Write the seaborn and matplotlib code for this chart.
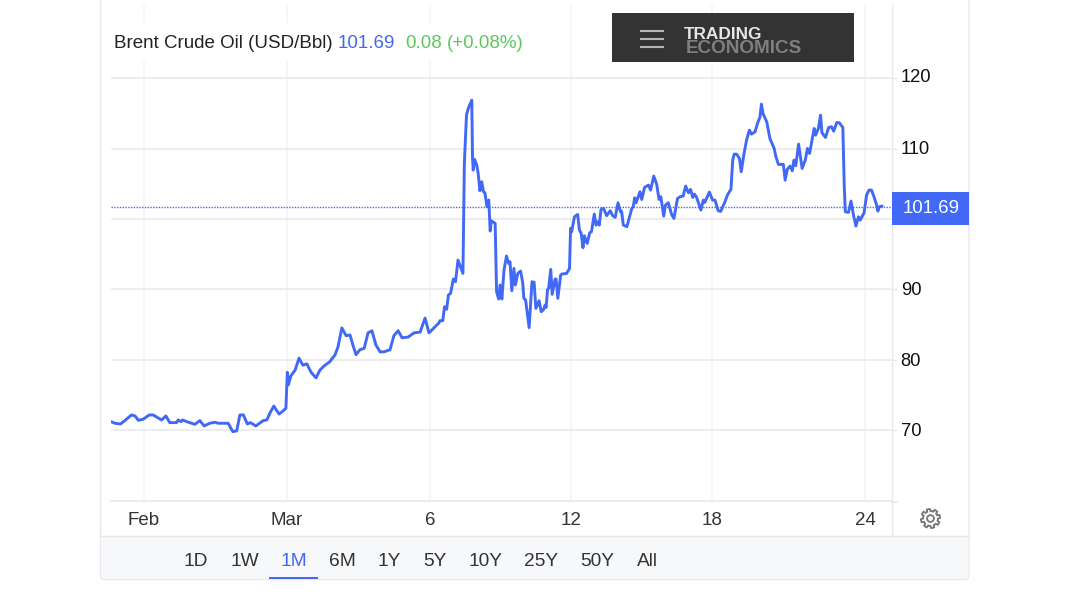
import matplotlib
matplotlib.use("Agg")
import matplotlib.pyplot as plt
from matplotlib.patches import Rectangle, FancyBboxPatch, Polygon, Circle
from matplotlib.transforms import ScaledTranslation
import numpy as np
import pandas as pd
import seaborn as sns

# trading days counted from 2 March, price in USD/Bbl
days = [-4.97, -4.86, -4.70, -4.58, -4.39, -4.29, -4.20, -4.06, -3.89, -3.78, -3.54, -3.42, -3.31, -3.12,
        -3.07, -2.99, -2.95, -2.83, -2.60, -2.46, -2.34, -2.18, -2.03, -1.94, -1.66, -1.53, -1.42, -1.33,
        -1.23, -1.12, -1.03, -0.88, -0.67, -0.57, -0.46, -0.37, -0.29, -0.22, -0.10, -0.03,
        0.01, 0.04, 0.11, 0.23, 0.34, 0.45, 0.56, 0.68, 0.82, 0.93, 1.05, 1.21, 1.36, 1.44, 1.55, 1.67,
        1.78, 1.86, 1.95, 2.06, 2.18, 2.29, 2.40, 2.51, 2.63, 2.74, 2.91, 3.02, 3.14, 3.25, 3.42, 3.59,
        3.76, 3.90, 4.01, 4.15, 4.29, 4.32, 4.40, 4.45, 4.51, 4.56, 4.62, 4.70, 4.76, 4.83, 4.97, 5.01,
        5.07, 5.12, 5.22, 5.24, 5.26, 5.30, 5.36, 5.40, 5.45, 5.50, 5.55, 5.59, 5.65, 5.70, 5.74, 5.77,
        5.88, 5.92, 5.98, 6.02, 6.07, 6.13, 6.20, 6.26, 6.30, 6.35, 6.41, 6.45, 6.52, 6.60, 6.66, 6.69,
        6.74, 6.84, 6.92, 6.98, 7.03, 7.12, 7.18, 7.24, 7.29, 7.32, 7.36, 7.39, 7.45, 7.49, 7.57, 7.60,
        7.65, 7.73, 7.77, 7.90, 7.98, 8.01, 8.04, 8.12, 8.21, 8.26, 8.31, 8.36, 8.40, 8.44, 8.48, 8.55,
        8.60, 8.68, 8.73, 8.77, 8.82, 8.87, 8.94, 9.03, 9.13, 9.20, 9.27, 9.35, 9.42, 9.45, 9.50, 9.60,
        9.74, 9.78, 9.82, 9.86, 9.97, 10.02, 10.10, 10.21, 10.27, 10.36, 10.44, 10.51, 10.56, 10.64, 10.69,
        10.77, 10.87, 10.93, 11.03, 11.10, 11.19, 11.26, 11.34, 11.40, 11.46, 11.51, 11.57, 11.69, 11.76,
        11.80, 11.93, 12.02, 12.09, 12.18, 12.25, 12.37, 12.44, 12.54, 12.59, 12.63, 12.70, 12.78, 12.83,
        12.91, 12.98, 13.06, 13.12, 13.22, 13.29, 13.36, 13.40, 13.45, 13.55, 13.64, 13.76, 13.81, 13.88,
        14.02, 14.07, 14.13, 14.21, 14.27, 14.32, 14.37, 14.45, 14.55, 14.64, 14.70, 14.76, 14.82, 14.89,
        14.93, 15.01, 15.07, 15.11, 15.21, 15.30, 15.38, 15.44, 15.53, 15.60, 15.70, 15.74, 15.77, 15.86,
        15.93, 16.00, 16.07, 16.14, 16.19, 16.30, 16.37, 16.44, 16.51, 16.58, 16.64, 16.69, 16.73, 16.81]
prices = [71.18, 70.95, 70.85, 71.33, 72.13, 71.99, 71.37, 71.52, 72.13, 72.13, 71.42, 71.99, 71.04, 71.04,
          71.42, 71.18, 71.42, 71.18, 70.80, 71.33, 70.57, 70.95, 71.09, 70.95, 70.95, 69.76, 69.86, 72.13,
          72.13, 70.85, 71.04, 70.57, 71.33, 71.42, 72.60, 73.40, 72.75, 72.27, 72.75, 73.08,
          78.2, 76.4, 77.7, 78.5, 80.2, 79.2, 79.4, 78.2, 77.4, 78.5, 79.1, 79.7, 80.7, 81.8, 84.5, 83.4,
          83.5, 82.1, 80.7, 81.4, 81.6, 83.8, 84.1, 82.1, 81.1, 81.1, 81.4, 83.4, 84.1, 83.1, 83.2, 83.8,
          83.9, 85.9, 83.8, 84.5, 85.2, 85.53, 85.53, 87.52, 87.14, 89.18, 89.41, 91.45, 91.07, 94.15, 92.25, 107.9,
          114.74, 115.69, 116.88, 108.83, 106.93, 108.45, 107.64, 106.46, 104.0, 105.28, 103.85, 103.71, 101.72, 102.67, 98.27, 99.73,
          99.36, 89.65, 88.61, 90.6, 88.61, 92.73, 94.72, 93.67, 93.91, 89.79, 92.96, 90.6, 92.25, 92.59, 90.83, 88.7,
          88.47, 84.54, 91.07, 90.98, 87.28, 88.37, 86.81, 87.05, 87.76, 87.42, 89.98, 90.12, 92.82, 89.27, 91.45, 91.45,
          88.7, 92.02, 92.16, 92.25, 92.96, 98.65, 98.17, 100.3, 100.63, 98.41, 97.94, 95.9, 97.6, 96.99, 96.52, 98.03,
          98.17, 100.68, 99.12, 99.59, 99.12, 101.34, 101.49, 100.45, 101.16, 100.45, 100.21, 102.29, 101.01, 101.11, 99.12, 98.88,
          101.49, 101.72, 103.0, 102.29, 103.85, 102.76, 104.47, 104.8, 104.09, 106.08, 104.94, 102.76, 103.14, 100.4, 101.96,
          102.29, 100.54, 100.07, 102.9, 103.14, 103.24, 104.66, 103.71, 104.19, 103.05, 103.52, 103.05, 101.25, 102.67,
          102.34, 103.8, 102.67, 102.67, 101.16, 101.06, 102.43, 103.38, 104.23, 108.35, 109.2, 109.2, 108.59, 106.7,
          109.3, 111.19, 112.61, 112.05, 112.38, 113.56, 114.51, 116.31, 114.89, 113.8, 111.43, 110.01, 108.83, 107.74,
          107.74, 105.51, 107.03, 107.5, 106.84, 108.35, 107.55, 110.63, 107.17, 108.35, 110.01, 109.3, 110.96, 112.85,
          111.9, 112.85, 114.74, 112.23, 111.57, 112.99, 113.09, 112.47, 113.7, 113.66, 112.99, 104.56, 101.01, 100.92,
          102.53, 100.54, 98.98, 100.3, 99.83, 100.87, 103.38, 104.09, 104.09, 103.14, 102.2, 101.11, 101.72, 101.82]

y_ticks = [70, 80, 90, 100, 110, 120]
y_labels = ["70", "80", "90", "", "110", "120"]
x_ticks = [-4.04, 0, 4.04, 8.02, 12.0, 16.33]
x_labels = ["Feb", "Mar", "6", "12", "18", "24"]
last_price = 101.69
ranges = ["1D", "1W", "1M", "6M", "1Y", "5Y", "10Y", "25Y", "50Y", "All"]
range_x = [195.5, 244.5, 294, 342, 389, 435, 486, 541, 597, 647]

BLUE = "#4169f5"
W, H = 1077, 594

sns.set_style("white")
plt.rcParams["font.family"] = ["Liberation Sans", "DejaVu Sans"]

fig = plt.figure(figsize=(W / 100, H / 100), dpi=100)

# page furniture, in pixel coordinates
bg = fig.add_axes([0, 0, 1, 1], zorder=0)
bg.set_xlim(0, W)
bg.set_ylim(H, 0)
bg.axis("off")
bg.add_patch(FancyBboxPatch((100.5, -20), 868.5, 599.5, boxstyle="round,pad=0,rounding_size=4",
                            fc="white", ec="#e6e8eb", lw=1))
bg.add_patch(FancyBboxPatch((101, 535.5), 867.5, 43.5, boxstyle="round,pad=0,rounding_size=3",
                            fc="#f7f8fa", ec="none"))
bg.plot([101, 969], [535.5, 535.5], color="#e6e8eb", lw=1)
bg.plot([891.5, 891.5], [5, 535], color="#e6e8eb", lw=1)

# the chart itself
ax = fig.add_axes([111 / W, 1 - 501 / H, 780 / W, 496 / H], zorder=1)
ax.patch.set_alpha(0)
df = pd.DataFrame({"day": days, "price": prices})
ax.axhline(last_price, color=BLUE, lw=1, ls=(0, (1, 1)), zorder=1.5)
sns.lineplot(data=df, x="day", y="price", color=BLUE, lw=2.1, ax=ax, zorder=3)
ax.set_xlim(-4.97, 17.06)
ax.set_ylim(59.9, 130.4)
ax.yaxis.tick_right()
ax.set_yticks(y_ticks)
ax.set_yticklabels(y_labels)
ax.set_xticks(x_ticks)
ax.set_xticklabels(x_labels)
ax.set_xlabel("")
ax.set_ylabel("")
ax.grid(False)
ax.grid(True, axis="y", color="#e9eaeb", lw=1.2)
ax.grid(True, axis="x", color="#f3f5f7", lw=1.2)
ax.tick_params(axis="y", right=True, length=4.5, width=1, color="#e6e8eb", labelsize=13.2,
               labelcolor="#111111", pad=2.5)
ax.tick_params(axis="x", bottom=False, labelsize=13.5, labelcolor="#333333", pad=4.5)
for s in ["top", "left", "right"]:
    ax.spines[s].set_visible(False)
ax.spines["bottom"].set_color("#e6e8eb")
ax.spines["bottom"].set_linewidth(1.2)

# the value labels sit a little above their grid lines
for lab, dy in zip(ax.get_yticklabels(), [0.5, 0.5, 0.5, 0, 1.5, 3]):
    lab.set_transform(lab.get_transform() + ScaledTranslation(0, dy / 100, fig.dpi_scale_trans))

# overlays: title, logo, price flag, range buttons, gear
fg = fig.add_axes([0, 0, 1, 1], zorder=2)
fg.set_xlim(0, W)
fg.set_ylim(H, 0)
fg.axis("off")
fg.plot([891, 897], [501.5, 501.5], color="#e6e8eb", lw=1.2)
fg.add_patch(Rectangle((111, 23), 419, 37, fc="white", ec="none"))
fg.text(113.5, 44, "Brent Crude Oil (USD/Bbl)", fontsize=13.5, color="#222222", va="center")
fg.text(338, 44, "101.69", fontsize=13.5, color=BLUE, va="center")
fg.text(405.5, 44, "0.08", fontsize=13.5, color="#5cc85c", va="center")
fg.text(447, 44, "(+0.08%)", fontsize=13.5, color="#5cc85c", va="center")

fg.add_patch(Rectangle((612, 13), 242, 49, fc="#333333", ec="none"))
for yy in [30.5, 38.5, 47]:
    fg.plot([640, 664], [yy, yy], color="#b5b5b5", lw=1.5, solid_capstyle="butt")
fg.text(684, 34.5, "TRADING", fontsize=12.4, fontweight="bold", color="#e6e6e6", va="center")
fg.text(686, 48.5, "ECONOMICS", fontsize=13.6, fontweight="bold", color="#7f7f7f", va="center")

fg.add_patch(Rectangle((892, 191.5), 77, 33.5, fc=BLUE, ec="none"))
fg.text(931, 208.5, "101.69", fontsize=13.4, color="white", ha="center", va="center")

for name, xx in zip(ranges, range_x):
    fg.text(xx, 561, name, fontsize=13.8, ha="center", va="center",
            color=BLUE if name == "1M" else "#333333")
fg.add_patch(Rectangle((269, 576.5), 49, 2.3, fc=BLUE, ec="none"))

# gear icon
ang = np.linspace(0, 2 * np.pi, 8 * 12, endpoint=False)
rad = np.where(((ang + np.pi / 8) % (np.pi / 4)) < np.pi / 8, 9.6, 7.4)
fg.add_patch(Polygon(np.c_[930.5 + rad * np.cos(ang), 518.5 + rad * np.sin(ang)], closed=True,
                     fc="none", ec="#777777", lw=1.3))
fg.add_patch(Circle((930.5, 518.5), 3.4, fc="none", ec="#777777", lw=1.3))

fig.savefig("out.png", dpi=100)
